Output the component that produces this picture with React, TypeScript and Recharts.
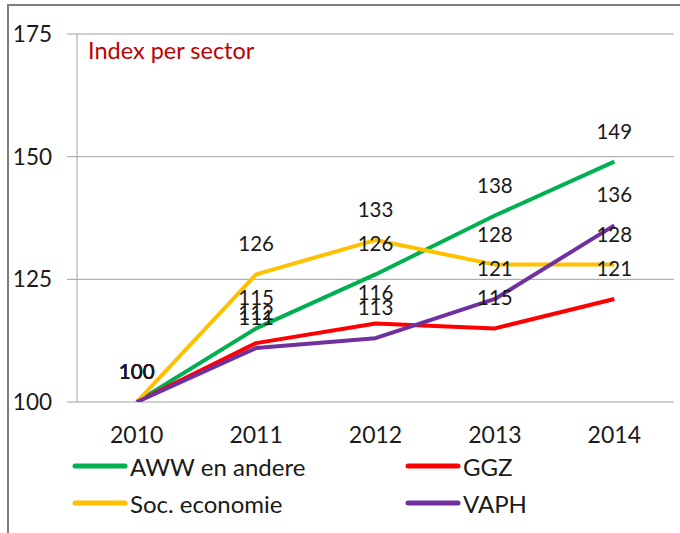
import React from "react";
import { LineChart, Line, XAxis, YAxis, CartesianGrid, Legend, LabelList } from "recharts";

const years = ["2010", "2011", "2012", "2013", "2014"];
const aww = [100, 115, 126, 138, 149];
const ggz = [100, 112, 116, 115, 121];
const soc = [100, 126, 133, 128, 128];
const vaph = [100, 111, 113, 121, 136];
const yTicks = [100, 125, 150, 175];
const boundaryTicks = [-0.5, 0.5, 1.5, 2.5, 3.5, 4.5];
const centerTicks = [0, 1, 2, 3, 4];

const series = [
  { key: "aww", name: "AWW en andere", color: "#00B050" },
  { key: "ggz", name: "GGZ", color: "#FF0000" },
  { key: "soc", name: "Soc. economie", color: "#FFC000" },
  { key: "vaph", name: "VAPH", color: "#7030A0" },
];

const data = years.map((y, i) => ({
  idx: i,
  year: y,
  aww: aww[i],
  ggz: ggz[i],
  soc: soc[i],
  vaph: vaph[i],
}));

const FONT = "Lato, 'Noto Sans', sans-serif";
const GRAY = "#A0A0A0";

const renderLabel = (props: any) => {
  const { x, y, value } = props;
  return (
    <text
      x={x}
      y={y - 31}
      textAnchor="middle"
      dominantBaseline="central"
      fontSize={20.5}
      fontFamily={FONT}
      fill="#1a1a1a"
    >
      {value}
    </text>
  );
};

const legendPos = [
  { left: 72, top: 19 },
  { left: 405, top: 19 },
  { left: 72, top: 56 },
  { left: 405, top: 56 },
];

const LegendContent = () => (
  <div style={{ position: "relative", width: 680, height: 80 }}>
    {series.map((s, i) => (
      <div
        key={s.key}
        style={{
          position: "absolute",
          left: legendPos[i].left,
          top: legendPos[i].top - 15,
          height: 30,
          display: "flex",
          alignItems: "center",
          fontFamily: FONT,
          fontSize: 24,
          color: "#1a1a1a",
          whiteSpace: "nowrap",
        }}
      >
        <svg width={56} height={10} style={{ marginRight: 2 }}>
          <line x1={3} y1={5} x2={53} y2={5} stroke={s.color} strokeWidth={5} strokeLinecap="round" />
        </svg>
        <span>{s.name}</span>
      </div>
    ))}
  </div>
);

export default function App() {
  return (
    <div style={{ position: "absolute", left: 0, top: 0, width: 680, height: 533, overflow: "hidden", background: "#fff" }}>
      <div
        style={{
          position: "absolute",
          left: 7,
          top: 4,
          width: 700,
          height: 600,
          borderLeft: "2px solid #7f7f7f",
          borderTop: "2px solid #7f7f7f",
        }}
      />
      <div style={{ position: "absolute", left: 0, top: 0 }}>
        <LineChart
          width={680}
          height={533}
          data={data}
          margin={{ top: 34, right: 6, bottom: 6, left: 0 }}
        >
          <CartesianGrid vertical={false} stroke={GRAY} strokeWidth={1} xAxisId="a" />
          <XAxis
            xAxisId="a"
            type="number"
            dataKey="idx"
            domain={[-0.5, 4.5]}
            ticks={boundaryTicks}
            tick={false}
            tickSize={10}
            height={0}
            stroke={GRAY}
            axisLine={{ stroke: GRAY }}
            tickLine={{ stroke: GRAY }}
            allowDataOverflow
          />
          <XAxis
            xAxisId="b"
            type="number"
            dataKey="idx"
            domain={[-0.5, 4.5]}
            ticks={centerTicks}
            tickFormatter={(v: number) => years[v]}
            axisLine={false}
            tickLine={false}
            tickSize={0}
            tickMargin={25}
            height={45}
            tick={{ fontSize: 23, fontFamily: FONT, fill: "#1a1a1a" }}
            allowDataOverflow
          />
          <YAxis
            type="number"
            domain={[100, 175]}
            ticks={yTicks}
            width={77}
            tickSize={10}
            tickMargin={15}
            stroke={GRAY}
            axisLine={{ stroke: GRAY }}
            tickLine={{ stroke: GRAY }}
            tick={{ fontSize: 22.5, fontFamily: FONT, fill: "#1a1a1a" }}
            allowDataOverflow
          />
          <Legend
            verticalAlign="bottom"
            content={<LegendContent />}
            wrapperStyle={{ left: 0, width: 680, height: 80 }}
          />
          {series.map((s) => (
            <Line
              key={s.key}
              xAxisId="a"
              type="linear"
              dataKey={s.key}
              name={s.name}
              stroke={s.color}
              strokeWidth={4}
              strokeLinejoin="round"
              dot={false}
              activeDot={false}
              isAnimationActive={false}
            >
              <LabelList dataKey={s.key} content={renderLabel} />
            </Line>
          ))}
        </LineChart>
      </div>
      <div
        style={{
          position: "absolute",
          left: 88,
          top: 36,
          fontFamily: FONT,
          fontSize: 23.5,
          color: "#C00000",
          whiteSpace: "nowrap",
          lineHeight: "28px",
        }}
      >
        Index per sector
      </div>
    </div>
  );
}
